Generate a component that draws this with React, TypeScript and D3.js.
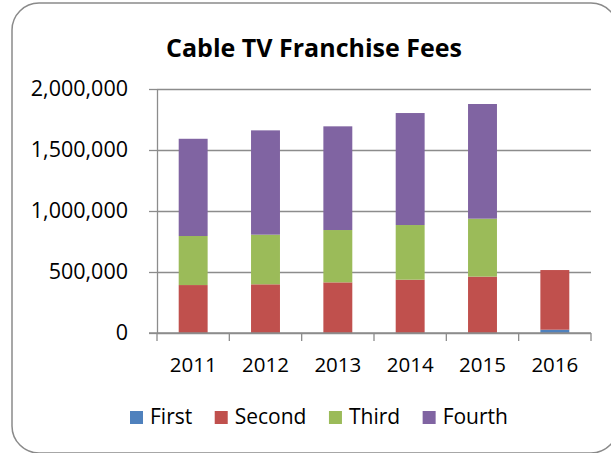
import React, { useEffect, useRef } from "react";
import * as d3 from "d3";

// chart data
const years = ["2011", "2012", "2013", "2014", "2015", "2016"];
const seriesNames = ["First", "Second", "Third", "Fourth"];
const seriesColors = ["#4F81BD", "#C0504D", "#9BBB59", "#8064A2"];
const first = [0, 0, 0, 0, 0, 27000];
const second = [393000, 399000, 415000, 437000, 462000, 489000];
const third = [402000, 407000, 429000, 448000, 475000, 0];
const fourth = [797000, 855000, 850000, 918000, 940000, 0];
const yTicks = [0, 500000, 1000000, 1500000, 2000000];

const App = () => {
  const width = 611;
  const height = 453;
  const marginTop = 89;
  const marginLeft = 157;
  const marginRight = 20;
  const marginBottom = 120;
  const font = "'Open Sans', Lato, sans-serif";
  const grey = "#8c8c8c";
  const svgRef = useRef<SVGSVGElement>(null);

  useEffect(() => {
    if (!svgRef.current) return;
    const svg = d3.select(svgRef.current);
    svg.selectAll("*").remove();

    const rows = years.map((year, i) => ({
      year,
      First: first[i],
      Second: second[i],
      Third: third[i],
      Fourth: fourth[i],
    }));
    const stacked = d3.stack<any>().keys(seriesNames)(rows);

    const x = d3
      .scaleBand()
      .domain(years)
      .range([marginLeft, width - marginRight])
      .paddingInner(0.6)
      .paddingOuter(0.3);

    const y = d3
      .scaleLinear()
      .domain([0, 2000000])
      .range([height - marginBottom, marginTop]);

    // chart frame
    svg
      .append("rect")
      .attr("x", 12)
      .attr("y", 3)
      .attr("width", 606)
      .attr("height", 450)
      .attr("rx", 27)
      .attr("fill", "white")
      .attr("stroke", "#8a8a8a")
      .attr("stroke-width", 1.5);

    svg
      .append("text")
      .attr("x", 314)
      .attr("y", 57)
      .attr("text-anchor", "middle")
      .attr("font-family", font)
      .attr("font-weight", "bold")
      .attr("font-size", 25)
      .text("Cable TV Franchise Fees");

    // y axis with gridlines
    svg
      .append("g")
      .attr("transform", `translate(${marginLeft},0)`)
      .attr("class", "yAxis")
      .call(
        d3
          .axisLeft(y)
          .tickValues(yTicks)
          .tickFormat(d3.format(","))
          .tickSize(8)
          .tickSizeOuter(0),
      )
      .call((g) =>
        g
          .selectAll(".tick line")
          .clone()
          .attr("x2", width - marginLeft - marginRight),
      )
      .call((g) => g.selectAll("line").attr("stroke", grey).attr("stroke-width", 1.3))
      .call((g) => g.select(".domain").attr("stroke", grey).attr("stroke-width", 1.3))
      .selectAll("text")
      .attr("x", -29)
      .attr("fill", "black")
      .style("font-family", font)
      .style("font-size", "21.5px");

    // bars
    svg
      .append("g")
      .selectAll("g")
      .data(stacked)
      .join("g")
      .attr("fill", (d, i) => seriesColors[i])
      .selectAll("rect")
      .data((d) => d)
      .join("rect")
      .attr("x", (d: any) => x(d.data.year)!)
      .attr("width", x.bandwidth())
      .attr("y", (d) => y(d[1]))
      .attr("height", (d) => y(d[0]) - y(d[1]));

    // x axis
    const x0 = y(0);
    const step = x.step();
    const xAxis = svg.append("g").attr("class", "xAxis");
    xAxis
      .append("line")
      .attr("x1", marginLeft - 8)
      .attr("x2", width - marginRight)
      .attr("y1", x0)
      .attr("y2", x0)
      .attr("stroke", grey)
      .attr("stroke-width", 1.3);
    xAxis
      .selectAll(".tick")
      .data(d3.range(years.length + 1))
      .join("line")
      .attr("x1", (i) => marginLeft + i * step)
      .attr("x2", (i) => marginLeft + i * step)
      .attr("y1", x0)
      .attr("y2", x0 + 8)
      .attr("stroke", grey)
      .attr("stroke-width", 1.3);
    xAxis
      .selectAll("text")
      .data(years)
      .join("text")
      .attr("x", (d) => x(d)! + x.bandwidth() / 2)
      .attr("y", x0 + 39)
      .attr("text-anchor", "middle")
      .style("font-family", font)
      .style("font-size", "20.5px")
      .text((d) => d);

    // legend
    const legend = svg.append("g").attr("class", "legend");
    let lx = 130;
    seriesNames.forEach((name, i) => {
      legend
        .append("rect")
        .attr("x", lx)
        .attr("y", 411)
        .attr("width", 13)
        .attr("height", 13)
        .attr("fill", seriesColors[i]);
      const t = legend
        .append("text")
        .attr("x", lx + 20)
        .attr("y", 424)
        .style("font-family", font)
        .style("font-size", "21px")
        .text(name);
      const w = (t.node() as SVGTextElement).getComputedTextLength();
      lx += 20 + w + 22.5;
    });
  }, []);

  return (
    <div>
      <svg
        ref={svgRef}
        width={width}
        height={height}
        style={{ position: "absolute", left: 0, top: 0 }}
      ></svg>
    </div>
  );
};

export default App;
